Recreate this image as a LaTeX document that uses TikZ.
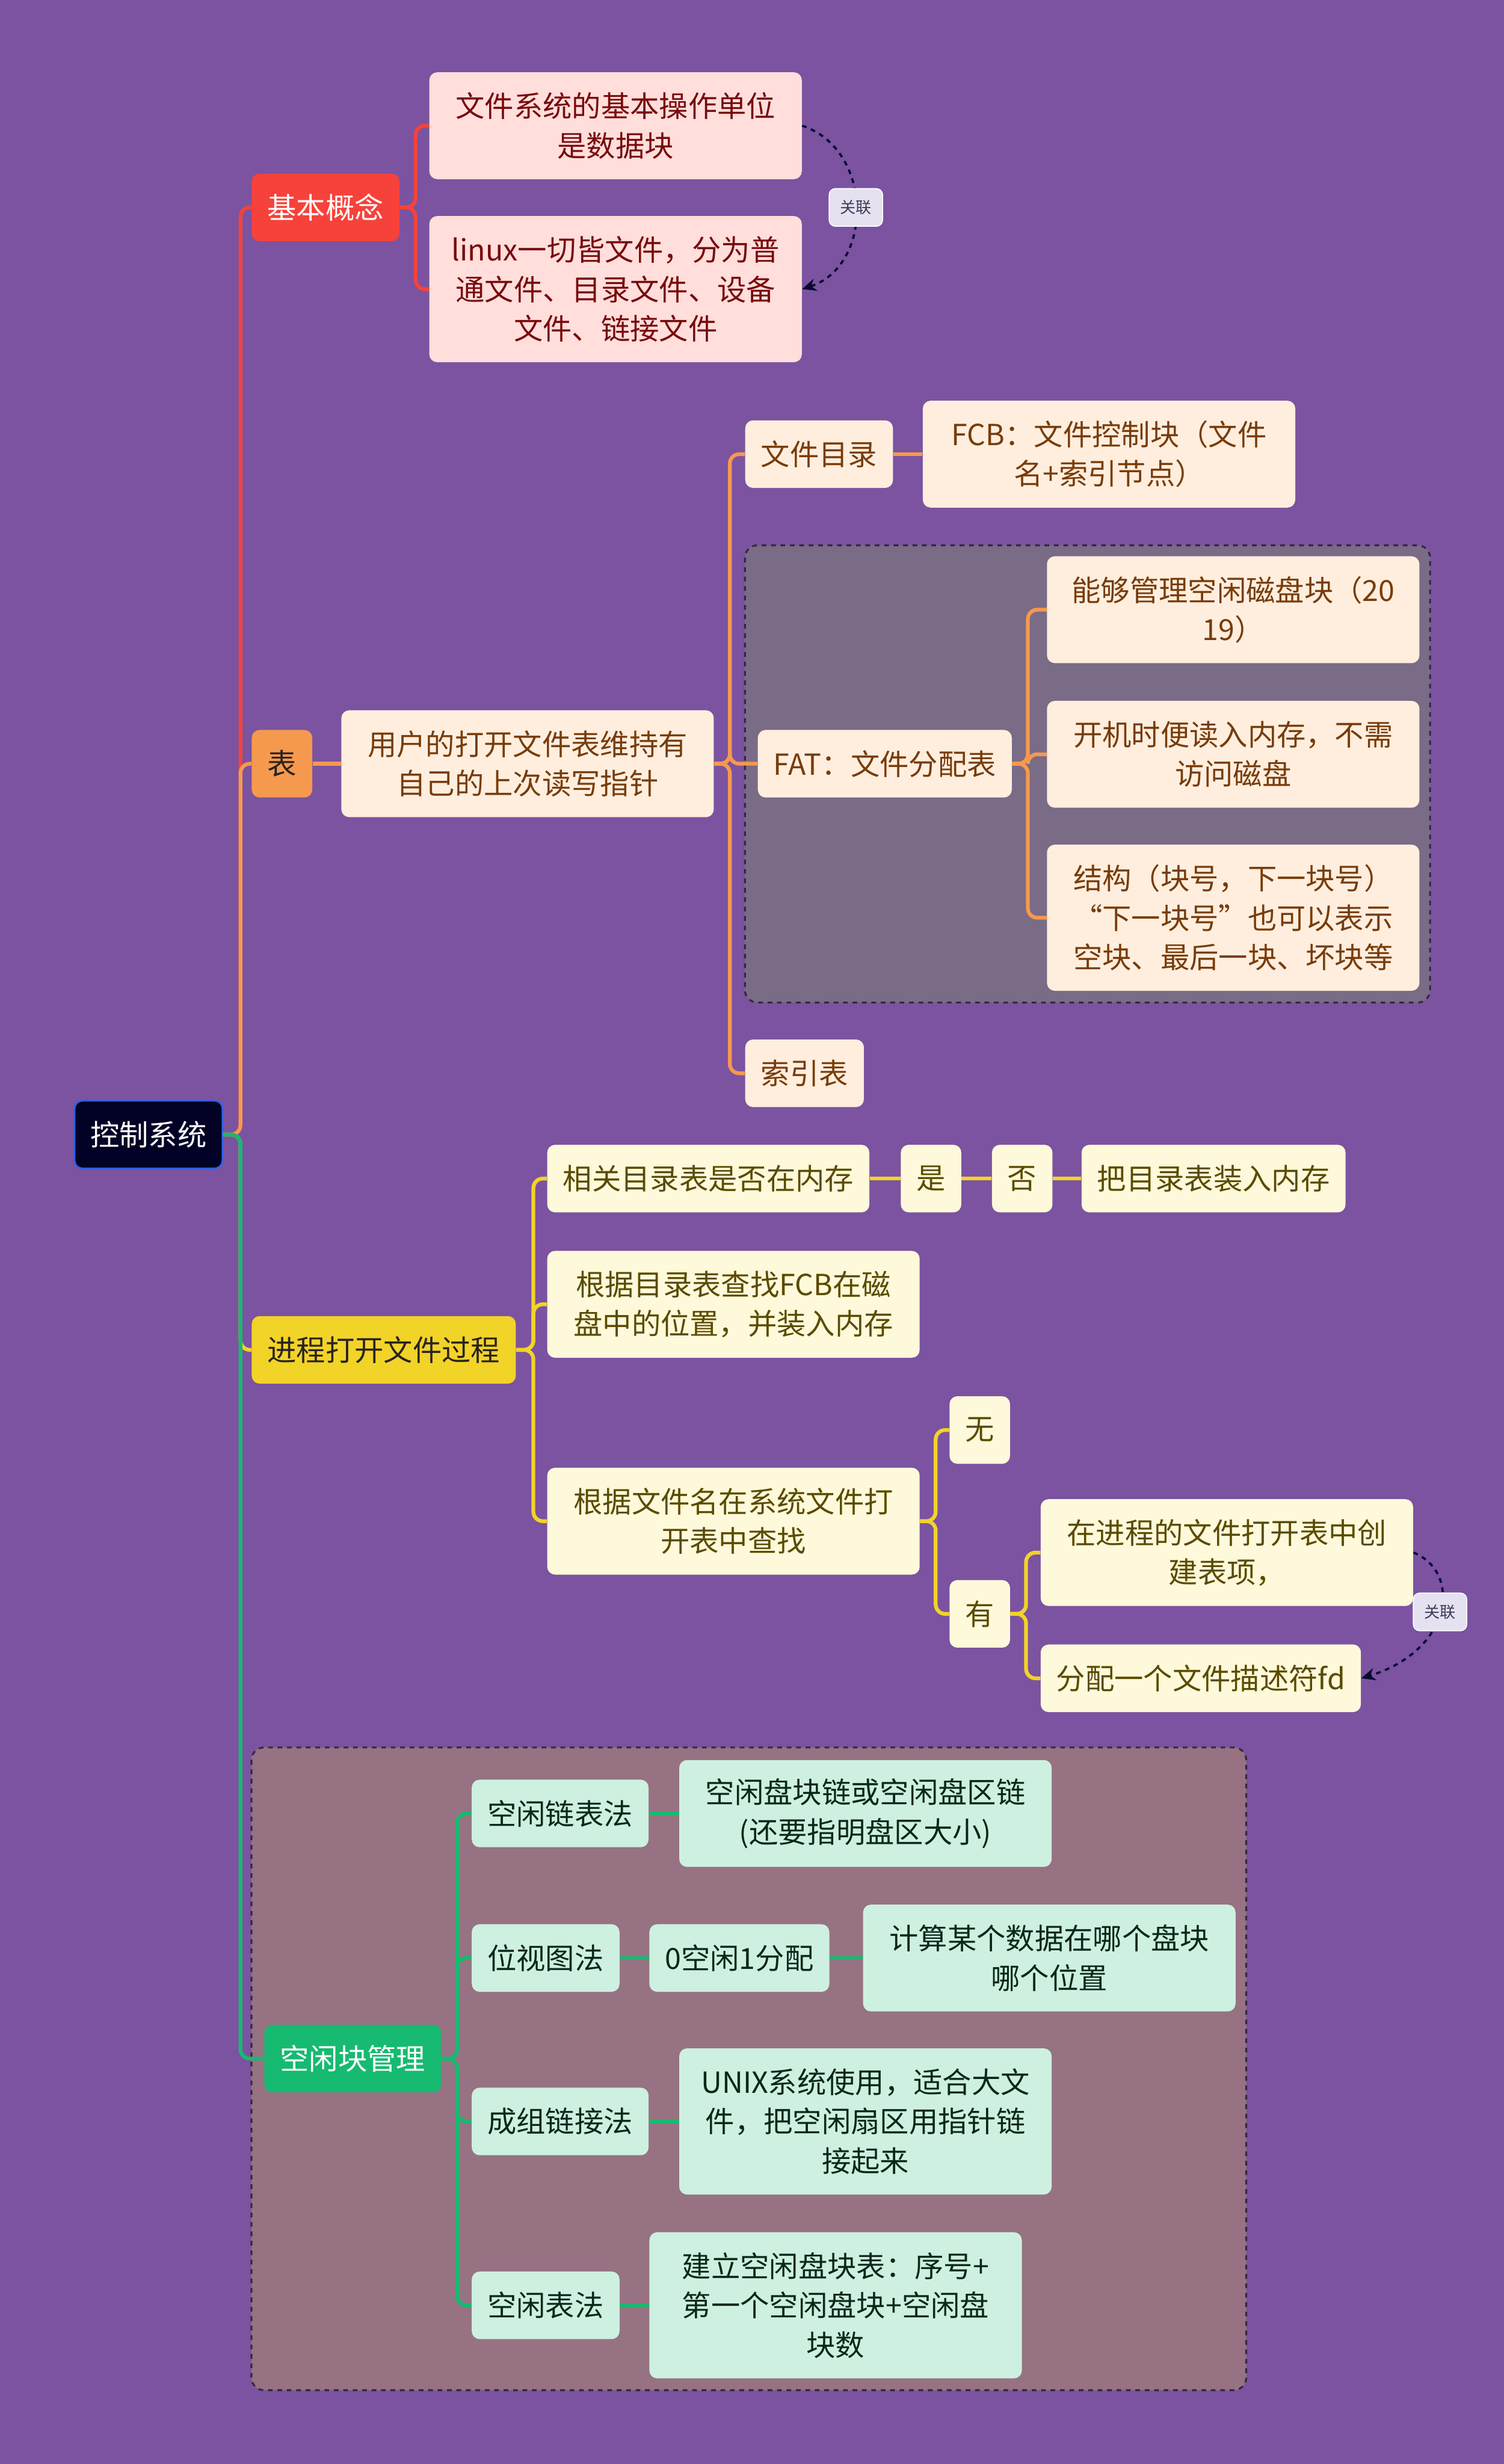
\documentclass[tikz,border=0pt]{standalone}
\usepackage{fontspec}
\setmainfont{Noto Sans CJK SC}
\usepackage{xcolor}
\definecolor{mapbg}{RGB}{123,83,160}
\definecolor{rootnavy}{RGB}{2,2,38}
\definecolor{rootblue}{RGB}{45,95,230}
\definecolor{mapred}{RGB}{246,66,58}
\definecolor{redpale}{RGB}{255,222,220}
\definecolor{redtext}{RGB}{120,10,10}
\definecolor{maporange}{RGB}{245,153,78}
\definecolor{orangepale}{RGB}{255,238,222}
\definecolor{orangetext}{RGB}{120,60,10}
\definecolor{mapyellow}{RGB}{242,211,40}
\definecolor{yellowpale}{RGB}{254,249,218}
\definecolor{yellowtext}{RGB}{90,75,0}
\definecolor{mapgreen}{RGB}{22,186,112}
\definecolor{greenpale}{RGB}{205,240,224}
\definecolor{greentext}{RGB}{10,40,25}
\definecolor{toptext}{RGB}{40,35,30}
\definecolor{fatgroup}{RGB}{122,107,134}
\definecolor{freegroup}{RGB}{151,114,131}
\definecolor{groupedge}{RGB}{50,42,58}
\definecolor{relfill}{RGB}{229,225,240}
\definecolor{relink}{RGB}{10,10,50}
\usetikzlibrary{arrows.meta}

\begin{document}
\begin{tikzpicture}[
    x=1pt, y=-1pt,
    box/.style={rounded corners=5pt, anchor=west, align=center, inner xsep=10pt,
                inner ysep=3pt, minimum height=43pt, font=\fontsize{18.5}{25}\selectfont},
    wide/.style={minimum width=237pt},
    two/.style={minimum height=68pt},
    three/.style={minimum height=93pt},
    rootbox/.style={box, fill=rootnavy, draw=rootblue, line width=1pt, text=white},
    redtop/.style={box, fill=mapred, text=white},
    redsub/.style={box, fill=redpale, text=redtext},
    orangetop/.style={box, fill=maporange, text=toptext},
    orangesub/.style={box, fill=orangepale, text=orangetext},
    yellowtop/.style={box, fill=mapyellow, text=toptext},
    yellowsub/.style={box, fill=yellowpale, text=yellowtext},
    greentop/.style={box, fill=mapgreen, text=white},
    greensub/.style={box, fill=greenpale, text=greentext},
    link/.style={line width=2.4pt, rounded corners=6pt},
    redline/.style={link, mapred},
    orangeline/.style={link, maporange},
    yellowline/.style={link, mapyellow},
    greenline/.style={link, mapgreen},
    grp/.style={draw=groupedge, dashed, line width=1.2pt, rounded corners=8pt},
    relarrow/.style={relink, dashed, line width=1.4pt, -{Stealth[length=9pt, width=8pt]}},
    rellabel/.style={solid, fill=relfill, draw=white, line width=0.6pt, rounded corners=4pt,
                     text=relink!80, font=\fontsize{10}{12}\selectfont,
                     minimum width=34pt, minimum height=24pt, inner sep=2pt},
  ]
    % --- Background ---
    \useasboundingbox (0,0) rectangle (957,1568);
    \fill[mapbg] (0,0) rectangle (957,1568);

    % --- Groups ---
    \filldraw[grp, fill=fatgroup] (474,347) rectangle (910,638);
    \filldraw[grp, fill=freegroup] (160,1112) rectangle (793,1521);

    % --- Root ---
    \node[rootbox] (root) at (47,722) {控制系统};

    % --- 基本概念 ---
    \node[redtop] (jbgn) at (160,132) {基本概念};
    \node[redsub, wide, two] (ka) at (273,80) {文件系统的基本操作单位\\是数据块};
    \node[redsub, wide, three] (kb) at (273,184) {linux一切皆文件，分为普\\通文件、目录文件、设备\\文件、链接文件};

    % --- 表 ---
    \node[orangetop] (biao) at (160,486) {表};
    \node[orangesub, wide, two] (yhb) at (217,486) {用户的打开文件表维持有\\自己的上次读写指针};
    \node[orangesub] (wjml) at (474,289) {文件目录};
    \node[orangesub, wide, two] (fcb) at (587,289) {FCB：文件控制块（文件\\名+索引节点）};
    \node[orangesub] (fat) at (482,486) {FAT：文件分配表};
    \node[orangesub, wide, two] (fa) at (666,388) {能够管理空闲磁盘块（20\\19）};
    \node[orangesub, wide, two] (fb) at (666,480) {开机时便读入内存，不需\\访问磁盘};
    \node[orangesub, wide, three] (fc) at (666,584) {结构（块号，下一块号）\\“下一块号”也可以表示\\空块、最后一块、坏块等};
    \node[orangesub] (syb) at (474,683) {索引表};

    % --- 进程打开文件过程 ---
    \node[yellowtop] (jc) at (160,859) {进程打开文件过程};
    \node[yellowsub] (ya) at (348,750) {相关目录表是否在内存};
    \node[yellowsub] (shi) at (573,750) {是};
    \node[yellowsub] (fou) at (631,750) {否};
    \node[yellowsub] (zr) at (688,750) {把目录表装入内存};
    \node[yellowsub, wide, two] (yb) at (348,830) {根据目录表查找FCB在磁\\盘中的位置，并装入内存};
    \node[yellowsub, wide, two] (yc) at (348,968) {根据文件名在系统文件打\\开表中查找};
    \node[yellowsub] (wu) at (604,910) {无};
    \node[yellowsub] (you) at (604,1027) {有};
    \node[yellowsub, wide, two] (yd) at (662,988) {在进程的文件打开表中创\\建表项，};
    \node[yellowsub] (ye) at (662,1068) {分配一个文件描述符fd};

    % --- 空闲块管理 ---
    \node[greentop] (kx) at (168,1310) {空闲块管理};
    \node[greensub] (ga) at (300,1154) {空闲链表法};
    \node[greensub, wide, two] (gaa) at (432,1154) {空闲盘块链或空闲盘区链\\(还要指明盘区大小)};
    \node[greensub] (gb) at (300,1246) {位视图法};
    \node[greensub] (gbb) at (413,1246) {0空闲1分配};
    \node[greensub, wide, two] (gbc) at (549,1246) {计算某个数据在哪个盘块\\哪个位置};
    \node[greensub] (gc) at (300,1350) {成组链接法};
    \node[greensub, wide, three] (gcc) at (432,1350) {UNIX系统使用，适合大文\\件，把空闲扇区用指针链\\接起来};
    \node[greensub] (gd) at (300,1467) {空闲表法};
    \node[greensub, wide, three] (gdd) at (413,1467) {建立空闲盘块表：序号+\\第一个空闲盘块+空闲盘\\块数};

    % --- Root branches ---
    \foreach \b/\c in {jbgn/redline, biao/orangeline, jc/yellowline, kx/greenline}
      \draw[\c] (root.east) -- ++(11,0) |- (\b.west);

    % --- Red links ---
    \foreach \t in {ka, kb}
      \draw[redline] (jbgn.east) -- ++(10,0) |- (\t.west);

    % --- Orange links ---
    \draw[orangeline] (biao.east) -- (yhb.west);
    \foreach \t in {wjml, fat, syb}
      \draw[orangeline] (yhb.east) -- ++(10,0) |- (\t.west);
    \draw[orangeline] (wjml.east) -- (fcb.west);
    \foreach \t in {fa, fb, fc}
      \draw[orangeline] (fat.east) -- ++(10,0) |- (\t.west);

    % --- Yellow links ---
    \foreach \t in {ya, yb, yc}
      \draw[yellowline] (jc.east) -- ++(11,0) |- (\t.west);
    \draw[yellowline] (ya.east) -- (shi.west);
    \draw[yellowline] (shi.east) -- (fou.west);
    \draw[yellowline] (fou.east) -- (zr.west);
    \foreach \t in {wu, you}
      \draw[yellowline] (yc.east) -- ++(10,0) |- (\t.west);
    \foreach \t in {yd, ye}
      \draw[yellowline] (you.east) -- ++(10,0) |- (\t.west);

    % --- Green links ---
    \foreach \t in {ga, gb, gc, gd}
      \draw[greenline] (kx.east) -- ++(10,0) |- (\t.west);
    \draw[greenline] (ga.east) -- (gaa.west);
    \draw[greenline] (gb.east) -- (gbb.west);
    \draw[greenline] (gbb.east) -- (gbc.west);
    \draw[greenline] (gc.east) -- (gcc.west);
    \draw[greenline] (gd.east) -- (gdd.west);

    % --- Relations ---
    \draw[relarrow] (ka.east) .. controls (556,95) and (556,169) .. (kb.east)
      node[rellabel, pos=0.5] {关联};
    \draw[relarrow] (yd.east) .. controls (930,1000) and (925,1050) .. (ye.east)
      node[rellabel, pos=0.5] {关联};
  \end{tikzpicture}
\end{document}
